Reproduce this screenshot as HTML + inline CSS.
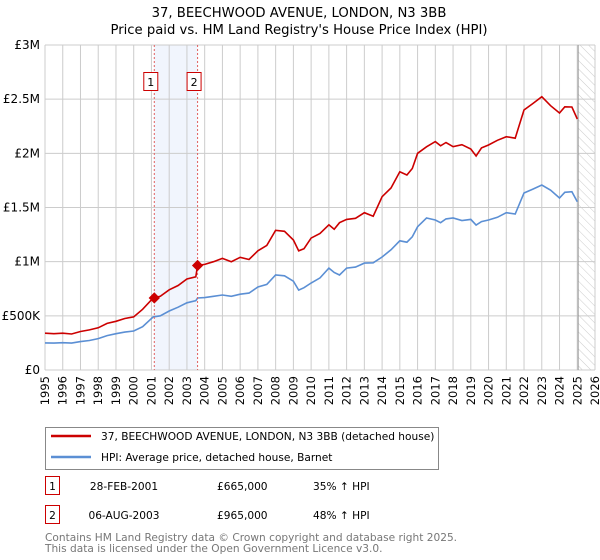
<!DOCTYPE html>
<html><head><meta charset="utf-8"><style>
body{margin:0;background:#fff;font-family:"DejaVu Sans","Liberation Sans",sans-serif;}
svg{display:block}
</style></head><body>
<svg width="600" height="560" id="c" font-family="DejaVu Sans, Liberation Sans, sans-serif">
<text x="299" y="17" text-anchor="middle" font-size="13.2">37, BEECHWOOD AVENUE, LONDON, N3 3BB</text>
<text x="299" y="34" text-anchor="middle" font-size="13.2">Price paid vs. HM Land Registry's House Price Index (HPI)</text>
<defs><pattern id="h" width="6" height="6" patternUnits="userSpaceOnUse" patternTransform="rotate(-45)"><line x1="0" y1="0" x2="0" y2="6" stroke="#ccc" stroke-width="1"/></pattern></defs>
<g id="grid"></g><g id="marks"></g>
<g>
<rect x="45.5" y="427.5" width="393" height="42" fill="#fff" stroke="#888"/>
<line x1="51" y1="436" x2="91" y2="436" stroke="#cc0000" stroke-width="2.5"/>
<text x="101" y="440" font-size="10.6">37, BEECHWOOD AVENUE, LONDON, N3 3BB (detached house)</text>
<line x1="51" y1="457" x2="91" y2="457" stroke="#5b8fd4" stroke-width="2.5"/>
<text x="101" y="461" font-size="10.6">HPI: Average price, detached house, Barnet</text>
</g>
<g font-size="10.6">
<rect x="45.5" y="476.5" width="14" height="18" fill="#fff" stroke="#cc0000"/><text x="52.5" y="490" text-anchor="middle">1</text>
<text x="124" y="490" text-anchor="middle">28-FEB-2001</text><text x="217" y="490">£665,000</text><text x="313" y="490">35% ↑ HPI</text>
<rect x="45.5" y="505.5" width="14" height="18" fill="#fff" stroke="#cc0000"/><text x="52.5" y="519" text-anchor="middle">2</text>
<text x="124" y="519" text-anchor="middle">06-AUG-2003</text><text x="217" y="519">£965,000</text><text x="313" y="519">48% ↑ HPI</text>
</g>
<text x="45" y="541" font-size="10.6" fill="#777">Contains HM Land Registry data © Crown copyright and database right 2025.</text>
<text x="45" y="552" font-size="10.6" fill="#777">This data is licensed under the Open Government Licence v3.0.</text>
</svg>
<script>
const years=[1995,1995.5,1996,1996.5,1997,1997.5,1998,1998.5,1999,1999.5,2000,2000.5,2001.1,2001.5,2002,2002.5,2003,2003.5,2003.6,2004,2004.5,2005,2005.5,2006,2006.5,2007,2007.5,2008,2008.5,2009,2009.3,2009.6,2010,2010.5,2011,2011.3,2011.6,2012,2012.5,2013,2013.5,2014,2014.5,2015,2015.4,2015.7,2016,2016.5,2017,2017.3,2017.6,2018,2018.5,2019,2019.3,2019.6,2020,2020.5,2021,2021.5,2022,2022.5,2023,2023.5,2024,2024.3,2024.7,2025];
const priceK=[340,335,340,332,355,370,390,430,450,475,490,560,665,680,740,780,840,860,965,975,1000,1030,1000,1040,1020,1100,1150,1290,1280,1200,1100,1120,1218,1260,1340,1300,1360,1390,1400,1452,1420,1600,1680,1830,1800,1860,2000,2060,2108,2070,2100,2061,2080,2040,1975,2050,2077,2120,2154,2140,2400,2460,2523,2440,2372,2430,2428,2317];
const hpiK=[250,248,252,248,262,272,290,318,335,350,360,400,490,500,545,580,620,640,665,668,680,692,680,700,710,766,790,877,870,820,738,760,803,850,941,900,877,941,950,987,990,1043,1110,1193,1180,1230,1323,1403,1385,1360,1395,1403,1380,1390,1338,1370,1385,1410,1452,1440,1634,1670,1708,1660,1588,1640,1646,1553];
const yTicks=[0,500,1000,1500,2000,2500,3000];
const yTickLabels=["£0","£500K","£1M","£1.5M","£2M","£2.5M","£3M"];
const sales=[{x:2001.16,v:665,label:"1"},{x:2003.6,v:965,label:"2"}];
const X=y=>45+(y-1995)*550/31, Y=v=>370-v*325/3000;
const NS="http://www.w3.org/2000/svg";
const g=document.getElementById('grid'), m=document.getElementById('marks');
function el(t,a,p){const e=document.createElementNS(NS,t);for(const k in a)e.setAttribute(k,a[k]);p.appendChild(e);return e;}
let sh=el('rect',{x:X(sales[0].x),y:45,width:X(sales[1].x)-X(sales[0].x),height:325,fill:'#eef3fc',opacity:0.8},g);

let ht=el('rect',{x:X(2025.05),y:45,width:595-X(2025.05),height:325,fill:'url(#h)'},g);

for(let yr=1995;yr<=2026;yr++){
 el('line',{x1:X(yr),x2:X(yr),y1:45,y2:370,stroke:'#ccc'},g);
 const t=el('text',{x:0,y:0,'font-size':11.5,'text-anchor':'end',transform:`translate(${X(yr)+4},376) rotate(-90)`},g);
 t.textContent=yr;
 
}
yTicks.forEach((v,i)=>{
 el('line',{x1:45,x2:595,y1:Y(v),y2:Y(v),stroke:'#ccc'},g);
 const t=el('text',{x:40,y:Y(v)+4,'font-size':12,'text-anchor':'end'},g);
 t.textContent=yTickLabels[i];
 
});
el('line',{x1:X(2025.05),x2:X(2025.05),y1:45,y2:370,stroke:'#999'},g);
function line(vals,col,name){
 const p=el('path',{d:vals.map((v,i)=>(i?'L':'M')+X(years[i]).toFixed(1)+','+Y(v).toFixed(1)).join(''),fill:'none',stroke:col,'stroke-width':1.6},m);
 
}
line(hpiK,'#5b8fd4','hpi-line');
line(priceK,'#cc0000','price-line');
sales.forEach(s=>{
 el('line',{x1:X(s.x),x2:X(s.x),y1:45,y2:370,stroke:'#e06060','stroke-dasharray':'2,2'},m);
 const d=el('rect',{x:X(s.x)-4,y:Y(s.v)-4,width:8,height:8,fill:'#cc0000',transform:`rotate(45 ${X(s.x)} ${Y(s.v)})`},m);
 
 const b=el('rect',{x:X(s.x)-10.5,y:72.5,width:14,height:18,fill:'#fff',stroke:'#cc0000'},m);
 
 const t=el('text',{x:X(s.x)-3.5,y:86,'font-size':11,'text-anchor':'middle'},m);t.textContent=s.label;
 
});
</script>
</body></html>
